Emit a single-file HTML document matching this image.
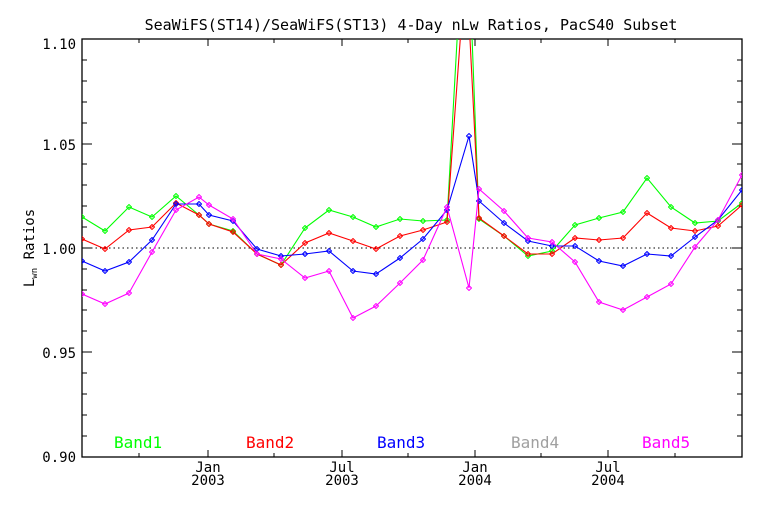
<!DOCTYPE html>
<html><head><style>
body{margin:0;background:#fff;}
svg text{font-family:"DejaVu Sans Mono","Liberation Mono",monospace;}
</style></head><body>
<svg width="768" height="512" xmlns="http://www.w3.org/2000/svg">
<defs><clipPath id="c"><rect x="82" y="39" width="660" height="418"/></clipPath>
<marker id="m" viewBox="-3 -3 6 6" markerWidth="6" markerHeight="6" markerUnits="userSpaceOnUse"><path d="M0,-2.5L2.5,0L0,2.5L-2.5,0Z" fill="none" stroke="context-stroke"/></marker>
</defs>
<text x="411" y="30" font-size="15" text-anchor="middle">SeaWiFS(ST14)/SeaWiFS(ST13) 4-Day nLw Ratios, PacS40 Subset</text>
<g fill="none" stroke="#000" stroke-width="1.3">
<rect x="82" y="39" width="660" height="418"/>
</g>
<g stroke="#000" stroke-width="1">
<path d="M82,436h5M82,415h5M82,394h5M82,373h5M82,352h10M82,331h5M82,310h5M82,290h5M82,269h5M82,248h10M82,227h5M82,206h5M82,185h5M82,164h5M82,144h10M82,123h5M82,102h5M82,81h5M82,60h5"/>
<path d="M742,436h-5M742,415h-5M742,394h-5M742,373h-5M742,352h-10M742,331h-5M742,310h-5M742,290h-5M742,269h-5M742,248h-10M742,227h-5M742,206h-5M742,185h-5M742,164h-5M742,144h-10M742,123h-5M742,102h-5M742,81h-5M742,60h-5"/>
<path d="M139,457v-4M208,457v-7M274,457v-4M342,457v-7M408,457v-4M475,457v-7M541,457v-4M608,457v-7M675,457v-4"/>
<path d="M139,39v4M208,39v7M274,39v4M342,39v7M408,39v4M475,39v7M541,39v4M608,39v7M675,39v4"/>
</g>
<line x1="82" y1="248" x2="742" y2="248" stroke="#000" stroke-dasharray="1.5,3"/>
<g font-size="14" text-anchor="end">
<text x="76" y="49">1.10</text><text x="76" y="150">1.05</text><text x="76" y="254">1.00</text><text x="76" y="358">0.95</text><text x="76" y="462">0.90</text>
</g>
<g font-size="14" text-anchor="middle">
<text x="208" y="472">Jan</text><text x="208" y="485">2003</text>
<text x="342" y="472">Jul</text><text x="342" y="485">2003</text>
<text x="475" y="472">Jan</text><text x="475" y="485">2004</text>
<text x="608" y="472">Jul</text><text x="608" y="485">2004</text>
</g>
<text transform="translate(34,248) rotate(-90)" font-size="14" text-anchor="middle">L<tspan font-size="9" dy="3">wn</tspan><tspan dy="-3"> Ratios</tspan></text>
<g clip-path="url(#c)" fill="none" stroke-width="1.1">
<polyline stroke="#00ff00" marker-start="url(#m)" marker-mid="url(#m)" marker-end="url(#m)" points="82,217 105,231 129,207 152,217 176,196 199,215 209,224 233,231 257,254 281,265 305,228 329,210 353,217 376,227 400,219 423,221 447,220 466,-120 479,219 504,236 528,256 552,251 575,225 599,218 623,212 647,178 671,207 695,223 718,221 742,203"/>
<polyline stroke="#ff0000" marker-start="url(#m)" marker-mid="url(#m)" marker-end="url(#m)" points="82,239 105,249 129,230 152,227 176,203 199,215 209,224 233,232 257,254 281,265 305,243 329,233 353,241 376,249 400,236 423,230 447,222 466,-40 479,218 504,236 528,254 552,254 575,238 599,240 623,238 647,213 671,228 695,231 718,226 742,205"/>
<polyline stroke="#0000ff" marker-start="url(#m)" marker-mid="url(#m)" marker-end="url(#m)" points="82,261 105,271 129,262 152,240 176,204 199,204 209,215 233,221 257,249 281,256 305,254 329,251 353,271 376,274 400,258 423,239 447,210 469,136 479,201 504,223 528,241 552,246 575,246 599,261 623,266 647,254 671,256 695,237 718,220 742,190"/>
<polyline stroke="#ff00ff" marker-start="url(#m)" marker-mid="url(#m)" marker-end="url(#m)" points="82,294 105,304 129,293 152,252 176,210 199,197 209,205 233,219 257,254 281,259 305,278 329,271 353,318 376,306 400,283 423,260 447,207 469,288 479,189 504,211 528,238 552,242 575,262 599,302 623,310 647,297 671,284 695,247 718,220 742,175"/>
</g>
<g font-size="16">
<text x="114" y="448" fill="#00ff00">Band1</text>
<text x="246" y="448" fill="#ff0000">Band2</text>
<text x="377" y="448" fill="#0000ff">Band3</text>
<text x="511" y="448" fill="#a0a0a0">Band4</text>
<text x="642" y="448" fill="#ff00ff">Band5</text>
</g>
</svg>
</body></html>
